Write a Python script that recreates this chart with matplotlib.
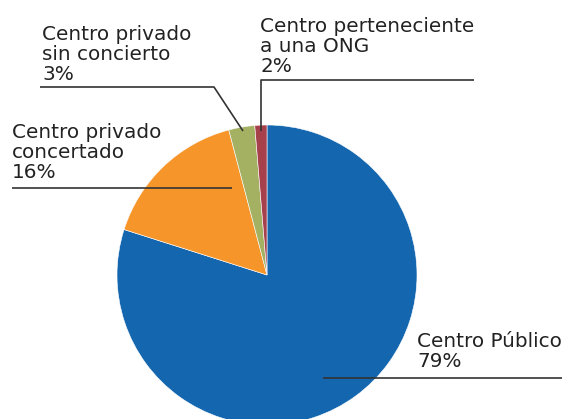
import matplotlib
matplotlib.use("Agg")
import matplotlib.pyplot as plt

# slice data (angles), clockwise from the top
labels = ['Centro Público', 'Centro privado\nconcertado',
          'Centro privado\nsin concierto', 'Centro perteneciente\na una ONG']
values = [79.9, 16.0, 2.8, 1.3]
pct_text = ['79%', '16%', '3%', '2%']
colors = ['#1466ae', '#f6962a', '#a4b062', '#a6404a']

W, H = 566, 419
CX, CY, R = 267, 275, 150


def px(x, y):
    # pixel position (from top-left) -> data units around pie centre
    return (x - CX) / R, (CY - y) / R


fig = plt.figure(figsize=(W / 100, H / 100), dpi=100)
ax = fig.add_axes([0, 0, 1, 1])

ax.pie(values, colors=colors, startangle=90, counterclock=False,
       radius=1, center=(0, 0), frame=True,
       wedgeprops=dict(edgecolor='white', linewidth=0.4))
ax.set_xlim(px(0, 0)[0], px(W, 0)[0])
ax.set_ylim(px(0, H)[1], px(0, 0)[1])
ax.set_aspect('equal')
ax.axis('off')

# label text: last-line baseline positions, leader line paths
text_pos = [(417, 367), (12, 178), (42, 80), (260, 72)]
leaders = [
    [(323, 378), (562, 378)],
    [(232, 188), (12, 188)],
    [(243, 131), (214, 87), (40, 87)],
    [(261, 131), (261, 80), (474, 80)],
]

for lab, pct, pos, path in zip(labels, pct_text, text_pos, leaders):
    x, y = px(*pos)
    ax.text(x, y, lab + '\n' + pct, ha='left', va='baseline',
            fontsize=14.4, color='#222222', linespacing=1.06,
            family='DejaVu Sans')
    xs = [px(*p)[0] for p in path]
    ys = [px(*p)[1] for p in path]
    ax.plot(xs, ys, color='#333333', linewidth=1.2, solid_capstyle='butt')

fig.savefig('out.png', dpi=100)
